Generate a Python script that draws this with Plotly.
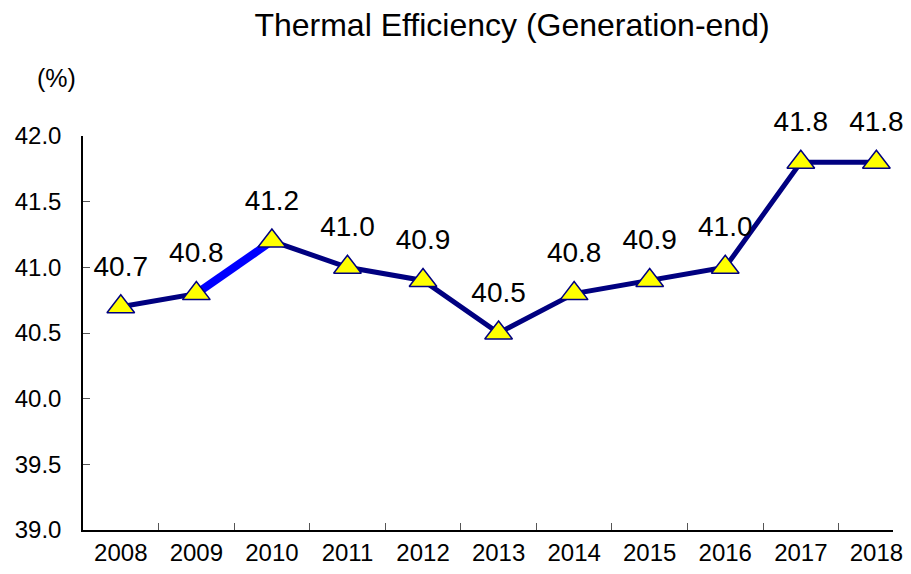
import plotly.graph_objects as go

years = ["2008", "2009", "2010", "2011", "2012", "2013", "2014", "2015", "2016", "2017", "2018"]
efficiency = [40.7, 40.8, 41.2, 41.0, 40.9, 40.5, 40.8, 40.9, 41.0, 41.8, 41.8]
highlight_years = ["2009", "2010"]
highlight_values = [40.8, 41.2]
y_ticks = [39.0, 39.5, 40.0, 40.5, 41.0, 41.5, 42.0]

NAVY = "#000080"
FONT = "Liberation Sans, Arial, sans-serif"

fig = go.Figure()

# Main line
fig.add_trace(
    go.Scatter(
        x=years,
        y=efficiency,
        mode="lines",
        line=dict(color=NAVY, width=5),
        hoverinfo="skip",
        showlegend=False,
    )
)

# Highlighted segment 2009-2010
fig.add_trace(
    go.Scatter(
        x=highlight_years,
        y=highlight_values,
        mode="lines",
        line=dict(color="#0000FF", width=8),
        hoverinfo="skip",
        showlegend=False,
    )
)

# Markers
fig.add_trace(
    go.Scatter(
        x=years,
        y=efficiency,
        mode="markers",
        marker=dict(
            symbol="triangle-up",
            size=24,
            color="#FFFF00",
            line=dict(color=NAVY, width=1.5),
        ),
        showlegend=False,
    )
)

# Value labels (invisible marker pushes text up)
fig.add_trace(
    go.Scatter(
        x=years,
        y=efficiency,
        mode="markers+text",
        text=[f"{v:.1f}" for v in efficiency],
        textposition="top center",
        textfont=dict(family=FONT, size=28, color="black"),
        marker=dict(size=37, opacity=0),
        cliponaxis=False,
        hoverinfo="skip",
        showlegend=False,
    )
)

fig.add_annotation(
    text="(%)",
    xref="paper",
    yref="paper",
    x=-0.033,
    y=1.0,
    yshift=58,
    xanchor="center",
    yanchor="middle",
    showarrow=False,
    font=dict(family=FONT, size=25, color="black"),
)

# page body has an 8px margin, so the figure is kept inside the window
fig.update_layout(
    title=dict(
        text="Thermal Efficiency (Generation-end)",
        x=504 / 895,
        xref="container",
        xanchor="center",
        y=1 - 17 / 558,
        yanchor="middle",
        font=dict(family=FONT, size=32, color="black"),
    ),
    width=895,
    height=558,
    margin=dict(l=75, r=0, t=128, b=26),
    plot_bgcolor="white",
    paper_bgcolor="white",
    font=dict(family=FONT, color="black"),
    xaxis=dict(
        type="category",
        range=[-0.5, 10.22],
        tickson="boundaries",
        ticks="inside",
        ticklen=7,
        tickcolor="#555555",
        showline=True,
        linecolor="black",
        linewidth=1.5,
        showgrid=False,
        zeroline=False,
        tickfont=dict(family=FONT, size=24, color="black"),
    ),
    yaxis=dict(
        range=[39.0, 42.0],
        tickvals=y_ticks,
        ticktext=[f"{v:.1f}" for v in y_ticks],
        ticks="inside",
        ticklen=7,
        tickcolor="#555555",
        showline=True,
        linecolor="black",
        linewidth=1.5,
        showgrid=False,
        zeroline=False,
        ticklabelstandoff=15,
        tickfont=dict(family=FONT, size=24, color="black"),
    ),
)

fig.write_html("out.html")
